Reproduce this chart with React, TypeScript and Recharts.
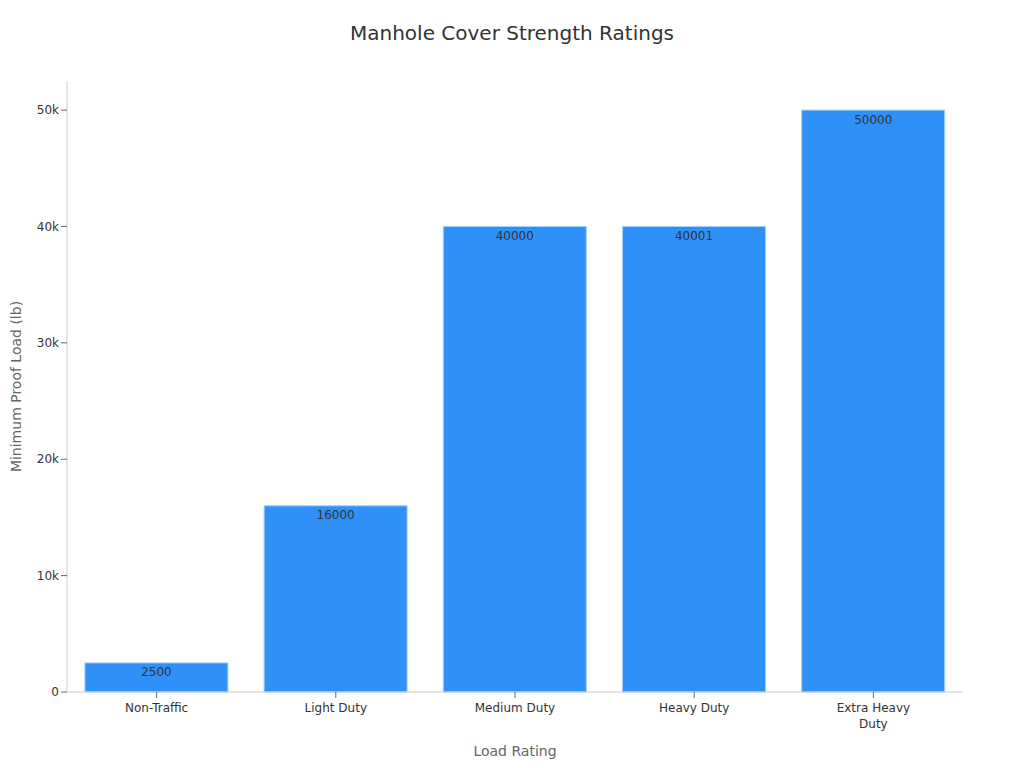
import React from 'react';
import {
  BarChart,
  Bar,
  XAxis,
  YAxis,
  LabelList,
  Text,
} from 'recharts';

const categories = ['Non-Traffic', 'Light Duty', 'Medium Duty', 'Heavy Duty', 'Extra Heavy Duty'];
const proofLoads = [2500, 16000, 40000, 40001, 50000];
const yTicks = [0, 10000, 20000, 30000, 40000, 50000];

const data = categories.map((name, i) => ({ name, load: proofLoads[i] }));

const FONT = '"DejaVu Sans", sans-serif';

function WrappedTick(props: any) {
  const { x, y, payload } = props;
  return (
    <Text
      x={x}
      y={y + 3}
      width={98}
      lineHeight="1.35em"
      textAnchor="middle"
      verticalAnchor="start"
      fontSize={12}
      fontFamily={FONT}
      fill="#333"
    >
      {payload.value}
    </Text>
  );
}

export default function App() {
  return (
    <div style={{ position: 'relative', width: 1008, height: 752, background: '#fff', fontFamily: FONT }}>
      <div
        style={{
          position: 'absolute',
          top: 13,
          left: 0,
          width: 1008,
          textAlign: 'center',
          fontSize: 20,
          lineHeight: '24px',
          color: '#333',
        }}
      >
        Manhole Cover Strength Ratings
      </div>
      <BarChart
        width={1008}
        height={752}
        data={data}
        margin={{ top: 73, right: 53, left: 1, bottom: 8 }}
        barCategoryGap="10%"
      >
        <XAxis
          dataKey="name"
          height={60}
          interval={0}
          tick={<WrappedTick />}
          axisLine={{ stroke: '#ccc' }}
          tickLine={{ stroke: '#666' }}
          label={{
            value: 'Load Rating',
            position: 'insideBottom',
            offset: -4,
            fill: '#666',
            fontSize: 14,
            fontFamily: FONT,
          }}
        />
        <YAxis
          width={58}
          domain={[0, 52500]}
          ticks={yTicks}
          tickFormatter={(v: number) => (v === 0 ? '0' : `${v / 1000}k`)}
          tick={{ fill: '#333', fontSize: 12, fontFamily: FONT }}
          axisLine={{ stroke: '#ccc' }}
          tickLine={{ stroke: '#666' }}
          label={{
            value: 'Minimum Proof Load (lb)',
            angle: -90,
            position: 'insideLeft',
            offset: 7,
            fill: '#666',
            fontSize: 14,
            fontFamily: FONT,
            style: { textAnchor: 'middle' },
          }}
        />
        <Bar dataKey="load" fill="#2f91f7" stroke="#a6cffb" strokeWidth={1} isAnimationActive={false}>
          <LabelList
            dataKey="load"
            position="insideTop"
            fill="#333"
            fontSize={12}
            fontFamily={FONT}
          />
        </Bar>
      </BarChart>
    </div>
  );
}
